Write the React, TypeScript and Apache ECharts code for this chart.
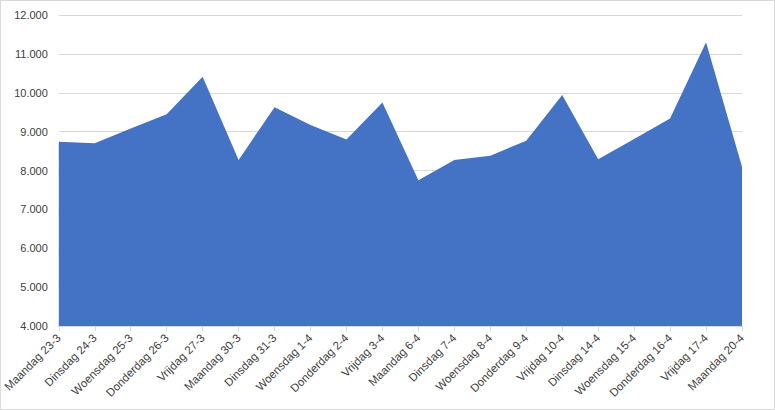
import React, { useEffect, useRef } from "react";
import * as echarts from "echarts";

const categories = [
  "Maandag 23-3", "Dinsdag 24-3", "Woensdag 25-3", "Donderdag 26-3", "Vrijdag 27-3",
  "Maandag 30-3", "Dinsdag 31-3", "Woensdag 1-4", "Donderdag 2-4", "Vrijdag 3-4",
  "Maandag 6-4", "Dinsdag 7-4", "Woensdag 8-4", "Donderdag 9-4", "Vrijdag 10-4",
  "Dinsdag 14-4", "Woensdag 15-4", "Donderdag 16-4", "Vrijdag 17-4", "Maandag 20-4",
];

const values = [
  8740, 8700, 9080, 9450, 10410,
  8270, 9630, 9170, 8800, 9750,
  7750, 8270, 8380, 8765, 9940,
  8290, 8810, 9335, 11300, 8095,
];

const yMin = 4000;
const yMax = 12000;
const yStep = 1000;

const fmt = (v: number) => `${Math.floor(v / 1000)}.${String(v % 1000).padStart(3, "0")}`;

export default function App() {
  const ref = useRef<HTMLDivElement>(null);
  useEffect(() => {
    document.body.style.margin = "0";
    const chart = echarts.init(ref.current!, undefined, { renderer: "svg" });
    chart.setOption({
      animation: false,
      backgroundColor: "#ffffff",
      textStyle: { fontFamily: "Liberation Sans, Arial, sans-serif" },
      graphic: [
        {
          type: "rect",
          shape: { x: 0.5, y: 0.5, width: 774, height: 409 },
          style: { fill: "none", stroke: "#d9d9d9", lineWidth: 1 },
          silent: true,
        },
      ],
      grid: { left: 58, right: 33, top: 15, bottom: 84, containLabel: false },
      xAxis: {
        type: "category",
        data: categories,
        boundaryGap: false,
        axisLine: { show: true, lineStyle: { color: "#d9d9d9", width: 1 } },
        axisTick: { show: true, alignWithLabel: true, length: 5, lineStyle: { color: "#d9d9d9" } },
        axisLabel: {
          interval: 0,
          rotate: 45,
          margin: 10,
          color: "#404040",
          fontSize: 11.5,
          fontFamily: "Liberation Sans, Arial, sans-serif",
        },
        splitLine: { show: false },
      },
      yAxis: {
        type: "value",
        min: yMin,
        max: yMax,
        interval: yStep,
        axisLine: { show: false },
        axisTick: { show: false },
        axisLabel: {
          margin: 11,
          color: "#404040",
          fontSize: 11,
          fontFamily: "Liberation Sans, Arial, sans-serif",
          formatter: (v: number) => fmt(v),
        },
        splitLine: { show: true, lineStyle: { color: "#d9d9d9", width: 1 } },
      },
      series: [
        {
          type: "line",
          data: values,
          symbol: "none",
          lineStyle: { width: 0, color: "#4472C4" },
          itemStyle: { color: "#4472C4" },
          areaStyle: { color: "#4472C4", opacity: 1, origin: "start" },
          z: 3,
        },
      ],
    });
    return () => chart.dispose();
  }, []);
  return <div ref={ref} style={{ width: 775, height: 410 }} />;
}
